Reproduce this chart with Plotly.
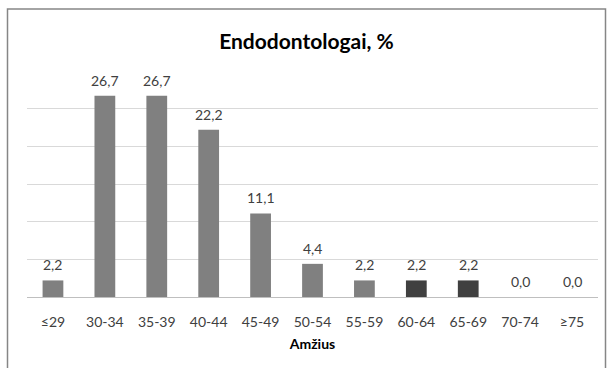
import plotly.graph_objects as go

categories = ["≤29", "30-34", "35-39", "40-44", "45-49", "50-54", "55-59", "60-64", "65-69", "70-74", "≥75"]
values = [2.2, 26.7, 26.7, 22.2, 11.1, 4.4, 2.2, 2.2, 2.2, 0.0, 0.0]
labels = ["2,2", "26,7", "26,7", "22,2", "11,1", "4,4", "2,2", "2,2", "2,2", "0,0", "0,0"]
bar_colors = ["#808080"] * 7 + ["#404040", "#404040"] + ["#808080"] * 2

FONT = "Lato, Open Sans, sans-serif"

fig = go.Figure(go.Bar(
    x=categories, y=values,
    marker=dict(color=bar_colors, line=dict(width=0)),
    cliponaxis=False,
))

for c, v, t in zip(categories, values, labels):
    fig.add_annotation(x=c, y=v, text=t, showarrow=False, yanchor="bottom", yshift=5,
                       font=dict(family=FONT, size=14, color="#404040"))

W, H = 613, 368
L, R, T, B = 27, 15, 71, 71
pw, ph = W - L - R, H - T - B

def px_x(p):
    return (p - L) / pw

def px_y(p):
    return (H - B - p) / ph

fig.update_layout(
    width=W, height=H,
    margin=dict(l=L, r=R, t=T, b=B),
    paper_bgcolor="white", plot_bgcolor="white",
    bargap=0.6,
    showlegend=False,
    title=dict(text="<b>Endodontologai, %</b>", x=0.5, xanchor="center", y=1 - 42 / H, yanchor="middle",
               font=dict(family=FONT, size=21, color="#000000")),
    xaxis=dict(
        title=dict(text="<b>Amžius</b>", font=dict(family=FONT, size=14, color="#000000"), standoff=10),
        tickfont=dict(family=FONT, size=14, color="#404040"),
        ticklabelstandoff=12,
        showline=True, linecolor="#bfbfbf", linewidth=1, ticks="",
        showgrid=False,
    ),
    yaxis=dict(range=[0, 30], dtick=5, showticklabels=False, showgrid=True,
               gridcolor="#d9d9d9", gridwidth=1, zeroline=False, showline=False),
    shapes=[dict(type="rect", xref="paper", yref="paper",
                 x0=px_x(7.5), x1=px_x(605.5), y0=px_y(372), y1=px_y(9),
                 line=dict(color="#868686", width=1.5), fillcolor="rgba(0,0,0,0)", layer="below")],
)

fig.write_html("out.html")
